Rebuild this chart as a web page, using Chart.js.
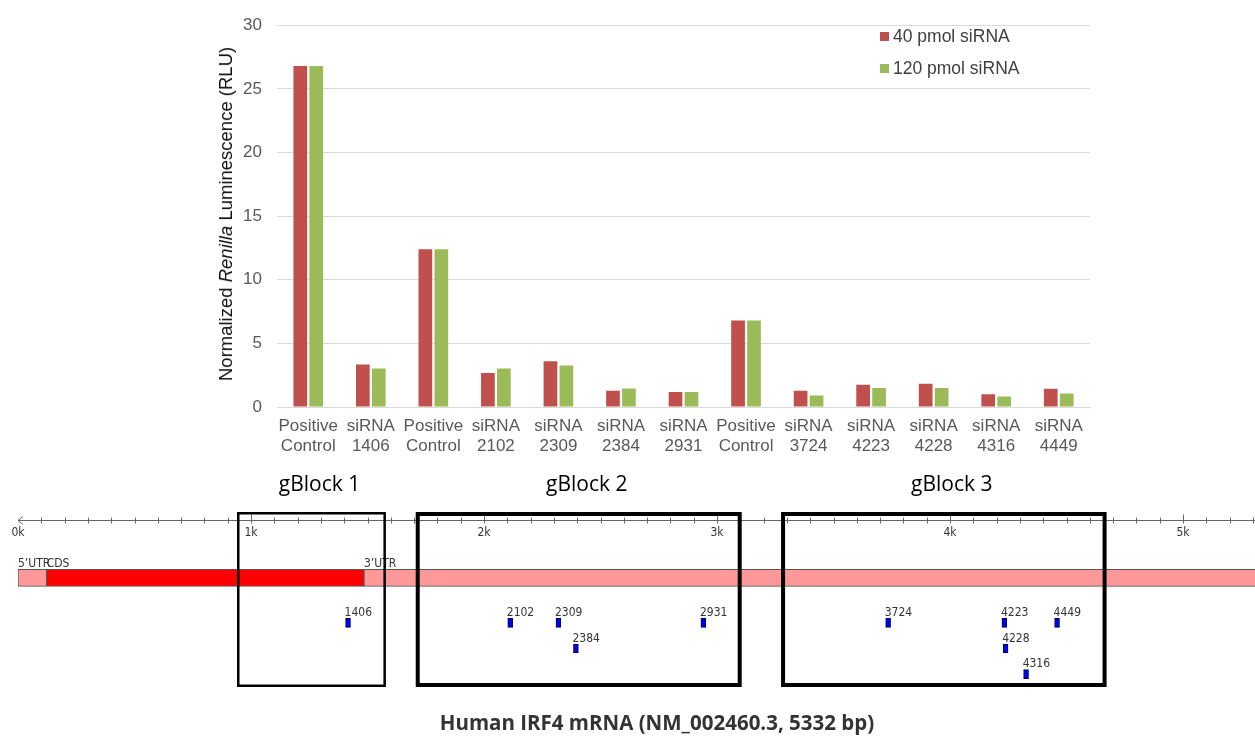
<!DOCTYPE html>
<html>
<head>
<meta charset="utf-8">
<script src="https://cdn.jsdelivr.net/npm/chart.js@4.4.1/dist/chart.umd.min.js"></script>
<style>
  body { margin: 0; width: 1255px; height: 738px; background: #fff; position: relative; overflow: hidden; font-family: "Liberation Sans", Arial, sans-serif; }
  #barChart { position: absolute; left: 0; top: 0; }
  #mapChart { position: absolute; left: 0; top: 460px; }
  .ytitle { position: absolute; left: 226px; top: 214px; transform: translate(-50%, -50%) rotate(-90deg); white-space: nowrap; font-size: 18.5px; color: #111; }
  .legend { position: absolute; left: 880px; top: 20px; font-size: 17.5px; color: #404040; }
  .legend div { height: 32px; display: flex; align-items: center; }
  .legend .sw { width: 9px; height: 9px; margin-right: 4px; display: inline-block; }
  .caption { position: absolute; left: 0; width: 1314px; top: 708px; text-align: center; font-family: "Open Sans", sans-serif; font-weight: 700; font-size: 20.5px; color: #333; }
</style>
</head>
<body>
<canvas id="barChart" width="1255" height="460"></canvas>
<canvas id="mapChart" width="1255" height="278"></canvas>
<div class="ytitle">Normalized <i>Renilla</i> Luminescence (RLU)</div>
<div class="legend" id="legend"></div>
<div class="caption">Human IRF4 mRNA (NM_002460.3, 5332 bp)</div>
<script>
// bar chart data
const categories = [
  ["Positive", "Control"], ["siRNA", "1406"], ["Positive", "Control"], ["siRNA", "2102"],
  ["siRNA", "2309"], ["siRNA", "2384"], ["siRNA", "2931"], ["Positive", "Control"],
  ["siRNA", "3724"], ["siRNA", "4223"], ["siRNA", "4228"], ["siRNA", "4316"], ["siRNA", "4449"]
];
const seriesNames = ["40 pmol siRNA", "120 pmol siRNA"];
const pmol40 = [26.8, 3.33, 12.4, 2.67, 3.6, 1.27, 1.17, 6.8, 1.27, 1.74, 1.82, 1.01, 1.43];
const pmol120 = [26.8, 3.02, 12.4, 3.02, 3.27, 1.46, 1.17, 6.8, 0.91, 1.5, 1.5, 0.83, 1.07];
const yTicks = [0, 5, 10, 15, 20, 25, 30];

// mRNA map data
const regionNames = ["5’UTR", "CDS", "3’UTR"];
const regionStart = [0, 123, 1485];
const regionEnd = [123, 1485, 5332];
const sirnaPos = [1406, 2102, 2309, 2384, 2931, 3724, 4223, 4228, 4316, 4449];
const sirnaRow = [1, 1, 1, 2, 1, 1, 1, 2, 3, 1];
const gblockNames = ["gBlock 1", "gBlock 2", "gBlock 3"];
const gblockStart = [940, 1707, 3275];
const gblockEnd = [1579, 3106, 4672];
const rulerLabels = ["0k", "1k", "2k", "3k", "4k", "5k"];

const colors = ["#c0504d", "#9bbb59"];
const tickFont = { family: "Liberation Sans", size: 17 };

document.getElementById("legend").innerHTML = seriesNames
  .map((n, i) => `<div><span class="sw" style="background:${colors[i]}"></span>${n}</div>`)
  .join("");

new Chart(document.getElementById("barChart"), {
  type: "bar",
  data: {
    labels: categories,
    datasets: [
      { label: seriesNames[0], data: pmol40, backgroundColor: colors[0], categoryPercentage: 0.51, barPercentage: 0.86 },
      { label: seriesNames[1], data: pmol120, backgroundColor: colors[1], categoryPercentage: 0.51, barPercentage: 0.86 }
    ]
  },
  options: {
    responsive: false,
    animation: false,
    layout: { padding: { left: 237, right: 165, top: 22, bottom: 0 } },
    plugins: { legend: { display: false }, tooltip: { enabled: false } },
    scales: {
      x: {
        grid: { display: false, drawTicks: false },
        border: { display: true, color: "#d9d9d9" },
        ticks: { color: "#595959", font: tickFont, padding: 9, maxRotation: 0, autoSkip: false },
        afterFit: s => { s.height = 53; }
      },
      y: {
        min: 0, max: 30,
        afterBuildTicks: s => { s.ticks = yTicks.map(v => ({ value: v })); },
        ticks: { color: "#595959", font: tickFont, padding: 15 },
        grid: { color: "#d9d9d9", drawTicks: false },
        border: { display: false },
        afterFit: s => { s.width = 40; }
      }
    }
  }
});

// lanes on the map's y scale
const RULER_LANE = -3;
const GENE_LANE = -0.75;
const smallFont = '12px "DejaVu Sans Condensed", "DejaVu Sans", sans-serif';

const mapDecor = {
  id: "mapDecor",
  beforeDatasetsDraw(chart) {
    const { ctx, scales: { x, y } } = chart;
    const ry = Math.round(y.getPixelForValue(RULER_LANE)) + 0.5;
    const x0 = x.getPixelForValue(0);
    ctx.save();
    ctx.strokeStyle = "#666";
    ctx.lineWidth = 1;
    ctx.beginPath();
    ctx.moveTo(x0, ry);
    ctx.lineTo(chart.width, ry);
    // arrow
    ctx.moveTo(x0 + 5, ry - 4);
    ctx.lineTo(x0, ry);
    ctx.lineTo(x0 + 5, ry + 4);
    for (let bp = 100; bp <= x.max; bp += 100) {
      const px = Math.round(x.getPixelForValue(bp)) + 0.5;
      const major = bp % 1000 === 0;
      ctx.moveTo(px, ry - (major ? 6 : 3));
      ctx.lineTo(px, ry + 3);
    }
    ctx.stroke();
    ctx.fillStyle = "#333";
    ctx.font = smallFont;
    ctx.textAlign = "center";
    ctx.textBaseline = "top";
    rulerLabels.forEach((t, i) => {
      ctx.fillText(t, x.getPixelForValue(i * 1000), ry + 6);
    });
    // region labels above the gene bar
    const gy = y.getPixelForValue(GENE_LANE) - 11;
    ctx.textAlign = "left";
    ctx.textBaseline = "alphabetic";
    regionNames.forEach((n, i) => {
      ctx.fillText(n, x.getPixelForValue(regionStart[i]), gy);
    });
    ctx.restore();
  },
  afterDatasetsDraw(chart) {
    const { ctx, chartArea, scales: { x, y } } = chart;
    ctx.save();
    // siRNA labels
    ctx.fillStyle = "#333";
    ctx.font = smallFont;
    ctx.textAlign = "left";
    ctx.textBaseline = "alphabetic";
    sirnaPos.forEach((p, i) => {
      ctx.fillText(String(p), x.getPixelForValue(p) - 1, y.getPixelForValue(sirnaRow[i]) - 7);
    });
    // gBlock boxes
    ctx.strokeStyle = "#000";
    ctx.fillStyle = "#000";
    ctx.font = '21px "Open Sans", sans-serif';
    ctx.textAlign = "center";
    ctx.textBaseline = "middle";
    gblockNames.forEach((n, i) => {
      const lw = i === 0 ? 2.5 : 4;
      const l = x.getPixelForValue(gblockStart[i]);
      const r = x.getPixelForValue(gblockEnd[i]);
      ctx.lineWidth = lw;
      ctx.strokeRect(l + lw / 2, chartArea.top + lw / 2, r - l - lw, chartArea.bottom - chartArea.top - lw);
      ctx.fillText(n, (l + r) / 2 + 8, chartArea.top - 27);
    });
    ctx.restore();
  }
};

new Chart(document.getElementById("mapChart"), {
  type: "bar",
  data: {
    datasets: [
      {
        label: "regions",
        data: regionNames.map((n, i) => ({ x: [regionStart[i], regionEnd[i]], y: GENE_LANE })),
        backgroundColor: ["#ff9999", "#ff0000", "#ff9999"],
        borderColor: "#555",
        borderWidth: 1,
        borderSkipped: false,
        grouped: false,
        barThickness: 17
      },
      {
        label: "siRNA",
        data: sirnaPos.map((p, i) => ({ x: [p, p + 21], y: sirnaRow[i] })),
        backgroundColor: "#0000ee",
        borderColor: "#000044",
        borderWidth: 1,
        borderSkipped: false,
        grouped: false,
        barThickness: 9
      }
    ]
  },
  options: {
    indexAxis: "y",
    responsive: false,
    animation: false,
    layout: { padding: { left: 18, right: 0, top: 52, bottom: 51 } },
    plugins: { legend: { display: false }, tooltip: { enabled: false } },
    scales: {
      x: { type: "linear", min: 0, max: 5309, display: false },
      y: { type: "linear", min: -3.32, max: 3.5, reverse: true, offset: false, display: false }
    }
  },
  plugins: [mapDecor]
});
</script>
</body>
</html>
